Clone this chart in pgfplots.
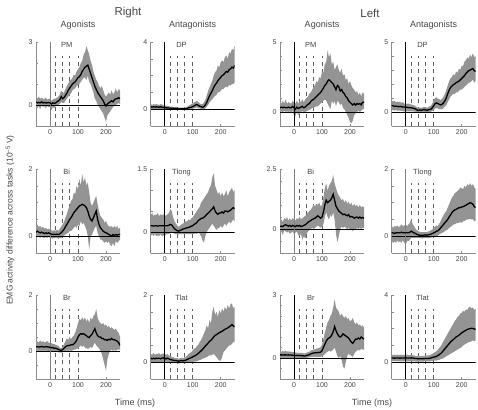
\documentclass[border=0pt]{standalone}
\usepackage{pgfplots}
\pgfplotsset{compat=1.18}
\usepackage{pgfplotstable}
\usepackage{fontspec}
\setmainfont{Liberation Sans}
\definecolor{bandc}{RGB}{148,148,148}
\definecolor{txt}{RGB}{70,70,70}
\definecolor{axg}{RGB}{140,140,140}
\definecolor{dashc}{RGB}{95,95,95}

\pgfplotstableread[row sep=\\]{
x m l u\\
-50 0.15 -0.1 0.45\\ -45 0.1 -0.15 0.3\\ -40 0.12 -0.05 0.4\\ -35 0.1 -0.2 0.3\\ -30 0.15 0.0 0.35\\
-25 0.1 -0.1 0.3\\ -20 0.12 -0.05 0.28\\ -15 0.1 -0.15 0.35\\ -10 0.1 -0.05 0.25\\ -5 0.12 -0.1 0.3\\
0 0.1 -0.1 0.3\\ 5 0.05 -0.25 0.2\\ 10 0.1 -0.1 0.25\\ 15 0.08 -0.15 0.3\\ 20 0.1 -0.05 0.3\\
25 0.15 0.0 0.35\\ 30 0.2 0.0 0.4\\ 35 0.25 0.05 0.5\\ 40 0.4 0.15 0.7\\ 45 0.3 0.1 0.55\\
50 0.35 0.1 0.6\\ 55 0.45 0.2 0.75\\ 60 0.55 0.3 0.9\\ 65 0.7 0.4 1.0\\ 70 0.8 0.5 1.15\\
75 0.9 0.55 1.2\\ 80 1.0 0.7 1.3\\ 85 1.05 0.75 1.45\\ 90 1.1 0.8 1.4\\ 95 1.2 0.9 1.6\\
100 1.3 0.95 1.7\\ 105 1.35 1.0 1.8\\ 110 1.45 1.1 2.0\\ 115 1.6 1.2 2.1\\ 120 1.7 1.3 2.4\\
125 1.8 1.3 2.5\\ 130 1.85 1.2 2.8\\ 135 1.9 1.4 2.6\\ 140 1.7 1.1 2.4\\ 145 1.5 1.0 2.1\\
150 1.3 0.8 1.9\\ 155 1.1 0.6 1.6\\ 160 0.9 0.3 1.4\\ 165 0.75 0.2 1.2\\ 170 0.6 0.0 1.1\\
175 0.5 -0.1 0.9\\ 180 0.4 -0.2 0.8\\ 185 0.3 -0.3 0.9\\ 190 0.2 -0.4 0.7\\ 195 0.05 -0.6 0.5\\
200 -0.05 -0.8 0.4\\ 205 0.05 -0.5 0.5\\ 210 0.1 -0.4 0.6\\ 215 0.15 -0.3 0.5\\ 220 0.2 -0.2 0.7\\
225 0.15 -0.1 0.5\\ 230 0.25 0.0 0.6\\ 235 0.3 0.0 0.8\\ 240 0.3 0.05 0.6\\ 245 0.35 0.1 0.75\\
250 0.3 0.05 0.7\\
}\tRPM

\pgfplotstableread[row sep=\\]{
x m l u\\
-50 0.15 0.0 0.3\\ -45 0.12 0.0 0.25\\ -40 0.15 0.02 0.3\\ -35 0.12 0.0 0.28\\ -30 0.14 0.02 0.3\\
-25 0.13 0.0 0.28\\ -20 0.12 0.0 0.25\\ -15 0.14 0.0 0.3\\ -10 0.12 0.0 0.28\\ -5 0.1 -0.02 0.25\\
0 0.1 0.0 0.22\\ 5 0.08 -0.02 0.2\\ 10 0.08 0.0 0.2\\ 15 0.07 -0.02 0.18\\ 20 0.06 -0.02 0.15\\
25 0.05 -0.03 0.15\\ 30 0.05 -0.02 0.14\\ 35 0.04 -0.03 0.12\\ 40 0.05 -0.02 0.13\\ 45 0.04 -0.03 0.12\\
50 0.03 -0.04 0.1\\ 55 0.03 -0.04 0.1\\ 60 0.03 -0.04 0.1\\ 65 0.02 -0.05 0.09\\ 70 0.03 -0.05 0.1\\
75 0.03 -0.05 0.1\\ 80 0.05 -0.03 0.14\\ 85 0.08 -0.02 0.2\\ 90 0.1 0.0 0.25\\ 95 0.12 0.0 0.3\\
100 0.15 0.02 0.35\\ 105 0.2 0.05 0.4\\ 110 0.25 0.08 0.45\\ 115 0.28 0.1 0.5\\ 120 0.22 0.05 0.42\\
125 0.18 0.05 0.35\\ 130 0.15 0.0 0.3\\ 135 0.12 0.0 0.3\\ 140 0.15 0.0 0.4\\ 145 0.25 0.05 0.55\\
150 0.4 0.15 0.8\\ 155 0.6 0.25 1.1\\ 160 0.8 0.4 1.3\\ 165 0.95 0.5 1.5\\ 170 1.1 0.6 1.7\\
175 1.3 0.7 2.0\\ 180 1.45 0.8 2.2\\ 185 1.55 0.85 2.3\\ 190 1.7 1.0 2.6\\ 195 1.8 1.0 2.5\\
200 1.9 1.1 2.8\\ 205 2.0 1.2 2.9\\ 210 2.05 1.2 2.8\\ 215 2.15 1.3 3.1\\ 220 2.25 1.35 3.2\\
225 2.2 1.3 3.0\\ 230 2.35 1.45 3.4\\ 235 2.4 1.4 3.3\\ 240 2.5 1.5 3.6\\ 245 2.45 1.5 3.5\\
250 2.6 1.6 3.8\\
}\tRDP

\pgfplotstableread[row sep=\\]{
x m l u\\
-50 0.3 0.0 0.7\\ -45 0.35 0.05 0.6\\ -40 0.3 -0.05 0.8\\ -35 0.35 0.1 0.6\\ -30 0.3 0.0 0.9\\
-25 0.3 0.05 0.6\\ -20 0.35 0.0 0.7\\ -15 0.3 0.05 0.65\\ -10 0.3 -0.05 0.6\\ -5 0.4 0.1 0.8\\
0 0.3 -0.2 0.7\\ 5 0.2 -0.3 0.6\\ 10 0.35 0.0 0.8\\ 15 0.25 -0.2 0.6\\ 20 0.3 -0.1 0.8\\
25 0.35 0.0 0.7\\ 30 0.4 0.05 0.9\\ 35 0.3 0.0 0.7\\ 40 0.35 0.0 0.9\\ 45 0.45 0.05 1.0\\
50 0.55 0.1 1.1\\ 55 0.6 0.15 1.3\\ 60 0.75 0.2 1.4\\ 65 0.85 0.3 1.6\\ 70 0.9 0.3 1.8\\
75 1.0 0.35 1.9\\ 80 1.1 0.4 2.2\\ 85 1.2 0.4 2.1\\ 90 1.3 0.5 2.5\\ 95 1.4 0.6 2.4\\
100 1.55 0.7 2.9\\ 105 1.7 0.8 2.8\\ 110 1.9 0.9 3.4\\ 115 2.0 0.8 3.6\\ 120 2.2 0.6 4.4\\
125 2.3 0.4 3.9\\ 130 2.2 0.2 4.2\\ 135 2.1 0.8 3.4\\ 140 2.0 0.6 3.6\\ 145 1.8 0.8 3.0\\
150 1.6 0.4 3.2\\ 155 1.9 0.8 3.4\\ 160 1.8 0.7 3.0\\ 165 1.5 0.5 2.8\\ 170 1.6 0.6 3.1\\
175 1.4 0.3 2.6\\ 180 1.3 0.2 2.7\\ 185 1.1 0.0 2.3\\ 190 1.0 -0.2 2.4\\ 195 0.8 -0.4 2.0\\
200 0.7 -0.7 2.2\\ 205 0.6 -0.8 1.9\\ 210 0.5 -0.6 1.7\\ 215 0.6 -0.2 1.6\\ 220 0.5 -0.1 1.4\\
225 0.6 0.0 1.5\\ 230 0.55 0.1 1.2\\ 235 0.6 0.0 1.4\\ 240 0.5 0.1 1.1\\ 245 0.7 0.2 1.4\\
250 0.7 0.2 1.3\\
}\tLPM

\pgfplotstableread[row sep=\\]{
x m l u\\
-50 0.45 0.1 0.8\\ -45 0.45 0.15 0.75\\ -40 0.4 0.1 0.8\\ -35 0.42 0.12 0.7\\ -30 0.4 0.1 0.75\\
-25 0.38 0.1 0.7\\ -20 0.4 0.1 0.72\\ -15 0.38 0.08 0.65\\ -10 0.35 0.05 0.7\\ -5 0.35 0.05 0.6\\
0 0.35 0.05 0.6\\ 5 0.33 0.05 0.58\\ 10 0.32 0.05 0.6\\ 15 0.3 0.05 0.55\\ 20 0.3 0.05 0.55\\
25 0.28 0.05 0.5\\ 30 0.25 0.03 0.48\\ 35 0.22 0.02 0.42\\ 40 0.15 0.0 0.35\\ 45 0.12 -0.02 0.3\\
50 0.15 0.0 0.32\\ 55 0.12 -0.02 0.3\\ 60 0.15 0.0 0.32\\ 65 0.18 0.02 0.35\\ 70 0.15 0.0 0.33\\
75 0.12 -0.02 0.3\\ 80 0.15 0.0 0.35\\ 85 0.18 0.0 0.4\\ 90 0.2 0.02 0.45\\ 95 0.3 0.08 0.6\\
100 0.45 0.15 0.85\\ 105 0.6 0.25 1.0\\ 110 0.65 0.3 1.05\\ 115 0.6 0.25 0.95\\ 120 0.55 0.2 0.9\\
125 0.5 0.2 0.85\\ 130 0.55 0.2 0.95\\ 135 0.65 0.3 1.1\\ 140 0.8 0.4 1.3\\ 145 1.0 0.5 1.6\\
150 1.3 0.7 1.9\\ 155 1.55 0.9 2.2\\ 160 1.75 1.1 2.4\\ 165 1.85 1.2 2.5\\ 170 1.95 1.3 2.7\\
175 2.0 1.3 2.6\\ 180 2.1 1.4 2.9\\ 185 2.15 1.4 2.8\\ 190 2.2 1.5 3.1\\ 195 2.3 1.6 3.0\\
200 2.4 1.6 3.3\\ 205 2.5 1.7 3.3\\ 210 2.6 1.8 3.6\\ 215 2.75 1.9 3.7\\ 220 2.85 2.0 3.9\\
225 2.95 2.1 3.8\\ 230 3.0 2.1 4.1\\ 235 3.05 2.2 3.9\\ 240 3.1 2.3 4.2\\ 245 2.95 2.1 3.9\\
250 2.9 2.2 4.0\\
}\tLDP

\pgfplotstableread[row sep=\\]{
x m l u\\
-50 0.12 0.0 0.3\\ -45 0.15 0.02 0.35\\ -40 0.12 -0.02 0.28\\ -35 0.1 -0.05 0.3\\ -30 0.12 0.0 0.25\\
-25 0.1 -0.05 0.28\\ -20 0.08 -0.05 0.22\\ -15 0.1 -0.03 0.25\\ -10 0.08 -0.05 0.2\\ -5 0.1 -0.02 0.22\\
0 0.08 -0.05 0.2\\ 5 0.06 -0.05 0.18\\ 10 0.05 -0.08 0.15\\ 15 0.06 -0.05 0.18\\ 20 0.05 -0.06 0.15\\
25 0.06 -0.05 0.2\\ 30 0.05 -0.08 0.15\\ 35 0.07 -0.05 0.22\\ 40 0.1 -0.05 0.28\\ 45 0.15 0.0 0.35\\
50 0.2 0.02 0.42\\ 55 0.28 0.05 0.55\\ 60 0.35 0.08 0.65\\ 65 0.42 0.1 0.8\\ 70 0.5 0.15 0.9\\
75 0.55 0.15 1.05\\ 80 0.62 0.2 1.1\\ 85 0.7 0.25 1.3\\ 90 0.75 0.3 1.25\\ 95 0.8 0.25 1.5\\
100 0.85 0.35 1.4\\ 105 0.9 0.3 1.7\\ 110 0.92 0.45 1.5\\ 115 0.95 0.35 1.85\\ 120 0.93 0.4 1.6\\
125 0.9 0.3 1.75\\ 130 0.85 0.2 1.5\\ 135 0.75 0.0 1.6\\ 140 0.6 -0.4 1.3\\ 145 0.5 0.0 1.0\\
150 0.45 0.05 0.9\\ 155 0.55 0.15 1.0\\ 160 0.65 0.25 1.1\\ 165 0.75 0.3 1.2\\ 170 0.5 0.1 0.95\\
175 0.35 0.0 0.75\\ 180 0.25 -0.1 0.6\\ 185 0.2 -0.1 0.55\\ 190 0.15 -0.15 0.5\\ 195 0.12 -0.2 0.4\\
200 0.1 -0.15 0.45\\ 205 0.08 -0.2 0.35\\ 210 0.05 -0.15 0.3\\ 215 0.03 -0.25 0.28\\ 220 0.0 -0.3 0.3\\
225 0.05 -0.2 0.25\\ 230 0.02 -0.3 0.3\\ 235 0.05 -0.15 0.25\\ 240 0.03 -0.2 0.3\\ 245 0.05 -0.15 0.22\\
250 0.05 -0.1 0.25\\
}\tRBi

\pgfplotstableread[row sep=\\]{
x m l u\\
-50 0.15 -0.1 0.4\\ -45 0.15 -0.05 0.45\\ -40 0.14 -0.1 0.38\\ -35 0.15 -0.05 0.42\\ -30 0.15 -0.1 0.4\\
-25 0.14 -0.08 0.45\\ -20 0.15 -0.1 0.38\\ -15 0.15 -0.05 0.42\\ -10 0.15 -0.1 0.4\\ -5 0.15 -0.08 0.42\\
0 0.15 -0.1 0.38\\ 5 0.15 -0.05 0.4\\ 10 0.15 -0.05 0.42\\ 15 0.16 -0.05 0.45\\ 20 0.18 -0.02 0.55\\
25 0.17 0.0 0.5\\ 30 0.12 -0.02 0.35\\ 35 0.08 -0.05 0.25\\ 40 0.05 -0.05 0.2\\ 45 0.03 -0.06 0.15\\
50 0.02 -0.06 0.12\\ 55 0.04 -0.05 0.15\\ 60 0.05 -0.05 0.18\\ 65 0.07 -0.05 0.2\\ 70 0.08 -0.05 0.22\\
75 0.09 -0.05 0.25\\ 80 0.1 -0.05 0.25\\ 85 0.11 -0.05 0.3\\ 90 0.12 -0.05 0.28\\ 95 0.14 -0.05 0.32\\
100 0.15 -0.05 0.35\\ 105 0.18 -0.05 0.4\\ 110 0.2 -0.03 0.45\\ 115 0.23 -0.05 0.5\\ 120 0.27 0.0 0.55\\
125 0.3 -0.05 0.6\\ 130 0.32 -0.1 0.7\\ 135 0.33 -0.2 0.75\\ 140 0.35 -0.25 0.8\\ 145 0.38 -0.1 0.85\\
150 0.42 0.0 0.9\\ 155 0.45 0.05 0.95\\ 160 0.48 0.1 1.05\\ 165 0.52 0.15 1.1\\ 170 0.55 0.2 1.3\\
175 0.6 0.15 1.4\\ 180 0.5 0.1 1.1\\ 185 0.45 0.05 1.0\\ 190 0.42 0.1 0.9\\ 195 0.45 0.1 0.95\\
200 0.45 0.15 0.85\\ 205 0.48 0.1 0.95\\ 210 0.45 0.15 0.85\\ 215 0.5 0.2 0.9\\ 220 0.5 0.15 1.0\\
225 0.48 0.2 0.85\\ 230 0.5 0.25 0.95\\ 235 0.52 0.2 1.0\\ 240 0.55 0.25 1.05\\ 245 0.58 0.3 0.95\\
250 0.55 0.25 1.0\\
}\tRTlong

\pgfplotstableread[row sep=\\]{
x m l u\\
-50 0.1 -0.2 0.35\\ -45 0.12 -0.1 0.4\\ -40 0.1 -0.25 0.3\\ -35 0.15 -0.05 0.45\\ -30 0.18 -0.1 0.4\\
-25 0.15 -0.15 0.5\\ -20 0.12 -0.1 0.35\\ -15 0.15 -0.2 0.45\\ -10 0.1 -0.15 0.35\\ -5 0.15 -0.1 0.45\\
0 0.12 -0.2 0.4\\ 5 0.1 -0.15 0.35\\ 10 0.15 -0.1 0.45\\ 15 0.12 -0.25 0.4\\ 20 0.15 -0.3 0.5\\
25 0.1 -0.2 0.4\\ 30 0.12 -0.45 0.45\\ 35 0.15 -0.3 0.5\\ 40 0.18 -0.4 0.55\\ 45 0.22 -0.2 0.6\\
50 0.28 -0.1 0.7\\ 55 0.32 -0.05 0.75\\ 60 0.35 0.0 0.8\\ 65 0.4 0.05 0.9\\ 70 0.42 0.0 1.0\\
75 0.45 0.05 0.95\\ 80 0.5 0.1 1.05\\ 85 0.55 0.15 1.0\\ 90 0.5 0.1 1.1\\ 95 0.45 0.05 0.95\\
100 0.5 0.1 1.0\\ 105 0.7 0.2 1.3\\ 110 1.0 0.5 1.7\\ 115 1.2 0.7 1.9\\ 120 1.1 0.5 1.6\\
125 1.15 0.4 1.8\\ 130 1.2 0.6 1.9\\ 135 1.3 0.5 2.0\\ 140 1.45 0.7 2.25\\ 145 1.2 0.4 1.9\\
150 0.95 -0.2 1.7\\ 155 0.85 -0.55 1.5\\ 160 0.75 -0.3 1.4\\ 165 0.7 0.0 1.3\\ 170 0.65 0.1 1.2\\
175 0.6 0.05 1.25\\ 180 0.62 0.1 1.1\\ 185 0.58 0.05 1.2\\ 190 0.55 0.0 1.05\\ 195 0.6 0.05 1.15\\
200 0.5 -0.05 1.0\\ 205 0.52 0.0 1.1\\ 210 0.5 -0.1 0.95\\ 215 0.45 0.0 1.05\\ 220 0.48 -0.05 0.95\\
225 0.5 0.05 1.0\\ 230 0.45 0.0 0.9\\ 235 0.5 0.05 1.0\\ 240 0.45 0.0 0.9\\ 245 0.48 0.05 0.95\\
250 0.45 0.05 0.9\\
}\tLBi

\pgfplotstableread[row sep=\\]{
x m l u\\
-50 0.1 -0.15 0.3\\ -45 0.1 -0.2 0.25\\ -40 0.08 -0.15 0.3\\ -35 0.1 -0.2 0.28\\ -30 0.1 -0.12 0.32\\
-25 0.1 -0.18 0.27\\ -20 0.1 -0.15 0.3\\ -15 0.12 -0.2 0.35\\ -10 0.1 -0.12 0.3\\ -5 0.1 -0.2 0.32\\
0 0.1 -0.25 0.35\\ 5 0.1 -0.15 0.3\\ 10 0.1 -0.15 0.35\\ 15 0.12 -0.1 0.4\\ 20 0.15 -0.05 0.5\\
25 0.12 -0.05 0.35\\ 30 0.1 -0.05 0.3\\ 35 0.08 -0.05 0.22\\ 40 0.05 -0.05 0.18\\ 45 0.04 -0.05 0.15\\
50 0.03 -0.06 0.13\\ 55 0.03 -0.06 0.12\\ 60 0.02 -0.07 0.12\\ 65 0.03 -0.05 0.12\\ 70 0.04 -0.05 0.13\\
75 0.03 -0.06 0.12\\ 80 0.04 -0.05 0.14\\ 85 0.05 -0.05 0.15\\ 90 0.06 -0.04 0.18\\ 95 0.08 -0.03 0.2\\
100 0.1 -0.02 0.25\\ 105 0.12 0.0 0.28\\ 110 0.15 0.0 0.32\\ 115 0.16 0.02 0.3\\ 120 0.2 0.05 0.38\\
125 0.25 0.08 0.45\\ 130 0.3 0.1 0.55\\ 135 0.35 0.12 0.62\\ 140 0.4 0.15 0.7\\ 145 0.45 0.18 0.75\\
150 0.5 0.2 0.85\\ 155 0.57 0.25 0.95\\ 160 0.63 0.28 1.05\\ 165 0.7 0.3 1.15\\ 170 0.75 0.35 1.2\\
175 0.78 0.35 1.28\\ 180 0.8 0.38 1.3\\ 185 0.82 0.4 1.35\\ 190 0.85 0.4 1.38\\ 195 0.85 0.42 1.45\\
200 0.87 0.4 1.42\\ 205 0.88 0.45 1.4\\ 210 0.9 0.45 1.5\\ 215 0.92 0.48 1.45\\ 220 0.95 0.5 1.55\\
225 0.97 0.5 1.5\\ 230 1.0 0.52 1.58\\ 235 0.98 0.5 1.5\\ 240 0.95 0.5 1.55\\ 245 0.88 0.45 1.45\\
250 0.85 0.45 1.4\\
}\tLTlong

\pgfplotstableread[row sep=\\]{
x m l u\\
-50 0.15 0.0 0.3\\ -45 0.15 0.02 0.35\\ -40 0.14 0.0 0.3\\ -35 0.15 0.02 0.38\\ -30 0.16 0.0 0.32\\
-25 0.15 0.02 0.35\\ -20 0.14 0.0 0.3\\ -15 0.15 0.02 0.33\\ -10 0.15 0.0 0.35\\ -5 0.14 0.0 0.3\\
0 0.13 -0.02 0.28\\ 5 0.12 0.0 0.28\\ 10 0.12 -0.02 0.25\\ 15 0.1 -0.02 0.25\\ 20 0.1 -0.02 0.22\\
25 0.08 -0.03 0.2\\ 30 0.06 -0.04 0.18\\ 35 0.03 -0.05 0.12\\ 40 0.02 -0.06 0.1\\ 45 0.05 -0.05 0.15\\
50 0.1 -0.02 0.25\\ 55 0.15 0.0 0.35\\ 60 0.18 0.02 0.45\\ 65 0.2 0.0 0.4\\ 70 0.2 0.02 0.5\\
75 0.22 0.0 0.42\\ 80 0.22 0.02 0.5\\ 85 0.25 0.05 0.55\\ 90 0.3 0.05 0.65\\ 95 0.38 0.08 0.8\\
100 0.5 0.1 1.0\\ 105 0.58 0.15 1.15\\ 110 0.62 0.2 1.1\\ 115 0.6 0.15 1.2\\ 120 0.62 0.2 1.1\\
125 0.58 0.12 1.2\\ 130 0.55 0.1 1.05\\ 135 0.5 0.08 1.15\\ 140 0.48 0.1 1.0\\ 145 0.55 0.15 1.2\\
150 0.6 0.1 1.1\\ 155 0.7 0.2 1.25\\ 160 0.8 0.3 1.3\\ 165 0.65 0.2 1.5\\ 170 0.55 0.15 1.2\\
175 0.5 0.1 1.05\\ 180 0.5 0.0 1.0\\ 185 0.45 -0.1 0.95\\ 190 0.45 -0.3 1.0\\ 195 0.4 -0.5 0.9\\
200 0.4 -0.7 0.95\\ 205 0.38 -0.3 0.85\\ 210 0.42 -0.1 0.9\\ 215 0.4 0.0 0.8\\ 220 0.45 0.05 0.85\\
225 0.4 0.0 0.8\\ 230 0.4 0.05 0.75\\ 235 0.38 0.0 0.8\\ 240 0.35 0.05 0.7\\ 245 0.3 0.05 0.65\\
250 0.2 0.05 0.5\\
}\tRBr

\pgfplotstableread[row sep=\\]{
x m l u\\
-50 0.12 -0.02 0.25\\ -45 0.1 -0.03 0.22\\ -40 0.12 -0.02 0.28\\ -35 0.1 -0.03 0.22\\ -30 0.12 0.0 0.25\\
-25 0.11 -0.02 0.24\\ -20 0.12 0.0 0.27\\ -15 0.1 -0.02 0.22\\ -10 0.12 0.0 0.25\\ -5 0.13 0.0 0.26\\
0 0.12 -0.02 0.24\\ 5 0.1 -0.02 0.22\\ 10 0.12 0.0 0.24\\ 15 0.1 -0.02 0.2\\ 20 0.08 -0.02 0.18\\
25 0.07 -0.02 0.16\\ 30 0.06 -0.03 0.15\\ 35 0.05 -0.03 0.13\\ 40 0.05 -0.03 0.12\\ 45 0.04 -0.03 0.12\\
50 0.03 -0.04 0.1\\ 55 0.04 -0.03 0.12\\ 60 0.05 -0.03 0.13\\ 65 0.04 -0.03 0.12\\ 70 0.05 -0.03 0.14\\
75 0.06 -0.02 0.16\\ 80 0.08 -0.02 0.2\\ 85 0.1 -0.02 0.24\\ 90 0.12 0.0 0.27\\ 95 0.14 0.0 0.3\\
100 0.16 0.0 0.35\\ 105 0.18 0.02 0.4\\ 110 0.2 0.02 0.42\\ 115 0.23 0.03 0.48\\ 120 0.26 0.05 0.52\\
125 0.3 0.06 0.6\\ 130 0.34 0.08 0.66\\ 135 0.38 0.1 0.75\\ 140 0.43 0.12 0.85\\ 145 0.48 0.14 0.95\\
150 0.52 0.15 1.1\\ 155 0.57 0.18 1.0\\ 160 0.62 0.2 1.25\\ 165 0.65 0.2 1.15\\ 170 0.7 0.22 1.5\\
175 0.75 0.25 1.65\\ 180 0.8 0.2 1.4\\ 185 0.82 0.15 1.5\\ 190 0.85 0.1 1.35\\ 195 0.88 0.05 1.55\\
200 0.9 0.05 1.45\\ 205 0.92 0.15 1.6\\ 210 0.95 0.3 1.5\\ 215 0.98 0.35 1.65\\ 220 1.0 0.4 1.55\\
225 1.02 0.45 1.7\\ 230 1.05 0.5 1.6\\ 235 1.08 0.5 1.72\\ 240 1.12 0.55 1.75\\ 245 1.08 0.6 1.6\\
250 1.05 0.6 1.65\\
}\tRTlat

\pgfplotstableread[row sep=\\]{
x m l u\\
-50 0.15 0.0 0.35\\ -45 0.15 0.02 0.3\\ -40 0.14 -0.02 0.33\\ -35 0.15 0.0 0.3\\ -30 0.15 0.02 0.35\\
-25 0.14 0.0 0.3\\ -20 0.15 0.0 0.32\\ -15 0.14 0.0 0.3\\ -10 0.14 0.0 0.3\\ -5 0.13 0.0 0.28\\
0 0.13 0.0 0.28\\ 5 0.12 0.0 0.26\\ 10 0.12 0.0 0.26\\ 15 0.12 0.0 0.25\\ 20 0.12 0.0 0.25\\
25 0.11 0.0 0.24\\ 30 0.11 0.0 0.24\\ 35 0.1 0.0 0.22\\ 40 0.1 0.0 0.22\\ 45 0.12 0.0 0.25\\
50 0.14 0.02 0.28\\ 55 0.16 0.03 0.3\\ 60 0.2 0.05 0.35\\ 65 0.22 0.06 0.38\\ 70 0.24 0.06 0.4\\
75 0.25 0.06 0.42\\ 80 0.25 0.05 0.45\\ 85 0.26 0.06 0.46\\ 90 0.26 0.05 0.48\\ 95 0.28 0.06 0.52\\
100 0.35 0.08 0.65\\ 105 0.5 0.12 0.9\\ 110 0.65 0.18 1.2\\ 115 0.8 0.25 1.45\\ 120 0.9 0.3 1.7\\
125 0.95 0.35 1.8\\ 130 1.0 0.3 2.0\\ 135 1.1 0.35 2.1\\ 140 1.25 0.4 2.4\\ 145 1.5 0.5 2.8\\
150 1.3 0.3 2.4\\ 155 1.15 0.1 2.3\\ 160 1.05 0.0 2.2\\ 165 1.0 0.1 2.0\\ 170 1.05 -0.1 2.1\\
175 1.15 -0.4 2.0\\ 180 1.1 -0.5 1.9\\ 185 1.05 -0.2 2.0\\ 190 1.0 0.1 1.85\\ 195 0.95 0.2 1.9\\
200 0.85 0.15 1.75\\ 205 0.75 0.1 1.8\\ 210 0.7 0.05 1.9\\ 215 0.8 0.2 1.7\\ 220 0.9 0.3 1.6\\
225 0.9 0.35 1.7\\ 230 0.95 0.4 1.55\\ 235 0.9 0.35 1.6\\ 240 1.0 0.45 1.5\\ 245 0.95 0.4 1.55\\
250 0.9 0.4 1.45\\
}\tLBr

\pgfplotstableread[row sep=\\]{
x m l u\\
-50 0.25 0.05 0.45\\ -45 0.25 0.08 0.42\\ -40 0.24 0.05 0.45\\ -35 0.25 0.08 0.42\\ -30 0.25 0.05 0.45\\
-25 0.25 0.06 0.44\\ -20 0.24 0.05 0.42\\ -15 0.25 0.06 0.45\\ -10 0.25 0.05 0.43\\ -5 0.25 0.06 0.44\\
0 0.26 0.06 0.45\\ 5 0.25 0.05 0.44\\ 10 0.25 0.06 0.43\\ 15 0.25 0.05 0.42\\ 20 0.26 0.06 0.44\\
25 0.25 0.05 0.42\\ 30 0.24 0.05 0.4\\ 35 0.22 0.04 0.38\\ 40 0.22 0.04 0.38\\ 45 0.2 0.03 0.36\\
50 0.2 0.03 0.36\\ 55 0.2 0.03 0.36\\ 60 0.2 0.04 0.37\\ 65 0.21 0.04 0.38\\ 70 0.22 0.05 0.38\\
75 0.22 0.05 0.4\\ 80 0.22 0.05 0.4\\ 85 0.23 0.05 0.42\\ 90 0.25 0.06 0.45\\ 95 0.28 0.08 0.5\\
100 0.3 0.1 0.55\\ 105 0.32 0.1 0.6\\ 110 0.35 0.1 0.65\\ 115 0.4 0.12 0.75\\ 120 0.45 0.15 0.85\\
125 0.52 0.18 0.95\\ 130 0.6 0.2 1.1\\ 135 0.7 0.25 1.25\\ 140 0.8 0.3 1.4\\ 145 0.9 0.35 1.55\\
150 1.0 0.4 1.7\\ 155 1.1 0.45 1.85\\ 160 1.2 0.5 2.0\\ 165 1.28 0.55 2.15\\ 170 1.35 0.6 2.3\\
175 1.42 0.65 2.45\\ 180 1.5 0.7 2.55\\ 185 1.55 0.75 2.7\\ 190 1.6 0.8 2.75\\ 195 1.68 0.85 2.9\\
200 1.75 0.9 2.95\\ 205 1.8 1.0 3.05\\ 210 1.85 1.05 3.0\\ 215 1.9 1.1 3.15\\ 220 1.95 1.15 3.1\\
225 1.98 1.2 3.25\\ 230 2.0 1.2 3.3\\ 235 2.02 1.25 3.2\\ 240 2.0 1.3 3.25\\ 245 1.98 1.25 3.1\\
250 1.95 1.3 3.2\\
}\tLTlat

\pgfplotsset{
  panel/.style={
    scale only axis, width=84pt, height=84pt, anchor=south west,
    xmin=-50, xmax=250,
    axis x line*=bottom, axis y line*=left,
    axis line style={axg, line width=0.6pt},
    xtick={0,100,200}, xticklabels={0,100,200},
    tick style={axg, line width=0.5pt}, major tick length=2pt,
    tick label style={font=\fontsize{7}{8}\selectfont, text=txt},
  },
  dl/.style={dashc, line width=0.6pt, dash pattern=on 4pt off 3.5pt, forget plot},
}

\def\zc{black}
% #1 x, #2 y, #3 table, #4 ymin, #5 ymax, #6 ytick, #7 yticklabels, #8 name, #9 dashed top
\newcommand{\panel}[9]{%
\begin{axis}[panel, at={(#1,#2)}, ymin=#4, ymax=#5, ytick={#6}, yticklabels={#7}]
\addplot[dl] coordinates {(20,#4) (20,#9)};
\addplot[dl] coordinates {(45,#4) (45,#9)};
\addplot[dl] coordinates {(70,#4) (70,#9)};
\addplot[dl] coordinates {(100,#4) (100,#9)};
\addplot[draw=none, stack plots=y, forget plot] table[x=x, y=l] {#3};
\addplot[fill=bandc, draw=none, stack plots=y, forget plot] table[x=x, y expr=\thisrow{u}-\thisrow{l}] {#3} \closedcycle;
\addplot[black, line width=0.9pt, forget plot] coordinates {(-50,0) (250,0)};
\addplot[\zc, line width=0.8pt, forget plot] coordinates {(0,#4) (0,#5)};
\addplot[black, line width=1.3pt, forget plot] table[x=x, y=m] {#3};
\node[font=\fontsize{7.5}{8}\selectfont, text=txt, anchor=north, inner sep=0pt] at (axis cs:60,#5) {#8};
\end{axis}}

\begin{document}
\begin{tikzpicture}
\path[use as bounding box] (0pt,0pt) rectangle (478pt,409pt);
% row 1
\def\zc{gray}
\panel{36pt}{283pt}{\tRPM}{-1}{3}{-1,0,1,2,3}{,0,,,3}{PM}{2.32}
\def\zc{black}
\panel{150.7pt}{283pt}{\tRDP}{-1}{4}{-1,0,1,2,3,4}{,0,,,,4}{DP}{3.15}
\panel{280pt}{283pt}{\tLPM}{-1}{5}{-1,0,1,2,3,4,5}{,0,,,,,5}{PM}{3.98}
\panel{391.7pt}{283pt}{\tLDP}{-1}{5}{-1,0,1,2,3,4,5}{,0,,,,,5}{DP}{3.98}
% row 2
\def\zc{gray}
\panel{36pt}{156pt}{\tRBi}{-0.5}{2}{-0.5,0,0.5,1,1.5,2}{,0,,,,2}{Bi}{1.575}
\def\zc{black}
\panel{150.7pt}{156pt}{\tRTlong}{-0.5}{1.5}{-0.5,0,0.5,1,1.5}{,0,,,1.5}{Tlong}{1.16}
\def\zc{gray}
\panel{280pt}{156pt}{\tLBi}{-1}{2.5}{-1,-0.5,0,0.5,1,1.5,2,2.5}{,,0,,,,,2.5}{Bi}{1.905}
\panel{391.7pt}{156pt}{\tLTlong}{-0.5}{2}{-0.5,0,0.5,1,1.5,2}{,0,,,,2}{Tlong}{1.575}
% row 3
\panel{36pt}{30pt}{\tRBr}{-1}{2}{-1,-0.5,0,0.5,1,1.5,2}{,,0,,,,2}{Br}{1.49}
\def\zc{black}
\panel{150.7pt}{30pt}{\tRTlat}{-0.5}{2}{-0.5,0,0.5,1,1.5,2}{,0,,,,2}{Tlat}{1.575}
\panel{280pt}{30pt}{\tLBr}{-1}{3}{-1,-0.5,0,0.5,1,1.5,2,2.5,3}{,,0,,,,,,3}{Br}{2.32}
\panel{391.7pt}{30pt}{\tLTlat}{-1}{4}{-1,0,1,2,3,4}{,0,,,,4}{Tlat}{3.15}
% titles
\node[font=\fontsize{11.5}{12}\selectfont, text=txt] at (128pt,396pt) {Right};
\node[font=\fontsize{11.5}{12}\selectfont, text=txt] at (370pt,396pt) {Left};
\node[font=\fontsize{9}{10}\selectfont, text=txt] at (78pt,384pt) {Agonists};
\node[font=\fontsize{9}{10}\selectfont, text=txt] at (192.7pt,384pt) {Antagonists};
\node[font=\fontsize{9}{10}\selectfont, text=txt] at (322pt,384pt) {Agonists};
\node[font=\fontsize{9}{10}\selectfont, text=txt] at (433.7pt,384pt) {Antagonists};
\node[font=\fontsize{9}{10}\selectfont, text=txt] at (135pt,6pt) {Time (ms)};
\node[font=\fontsize{9}{10}\selectfont, text=txt] at (372pt,6pt) {Time (ms)};
\node[font=\fontsize{8.5}{9}\selectfont, text=txt, rotate=90] at (10pt,189pt) {EMG activity difference across tasks (10\textsuperscript{–5} V)};
\end{tikzpicture}
\end{document}
